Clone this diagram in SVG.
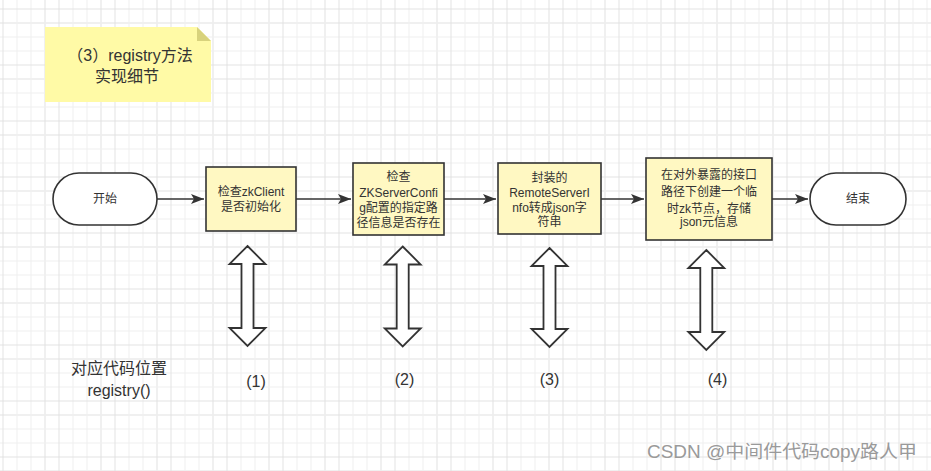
<svg xmlns="http://www.w3.org/2000/svg" width="931" height="471" viewBox="0 0 931 471">
<defs>
<pattern id="grid" patternUnits="userSpaceOnUse" x="2.5" y="8.5" width="56" height="56">
<path d="M14.5,0V56M28.5,0V56M42.5,0V56M0,14.5H56M0,28.5H56M0,42.5H56" stroke="#efefef" stroke-width="1" fill="none"/>
<path d="M0.5,0V56M0,0.5H56" stroke="#e2e2e2" stroke-width="1" fill="none"/>
</pattern>
<pattern id="gridmaj" patternUnits="userSpaceOnUse" x="44.5" y="22.5" width="56" height="56">
<path d="M0.5,0V56M0,0.5H56" stroke="#e2e2e2" stroke-width="1" fill="none"/>
</pattern>
<marker id="ah" viewBox="0 0 13 10" refX="13" refY="5" markerWidth="13" markerHeight="10" markerUnits="userSpaceOnUse" orient="auto">
<path d="M0,0 L13,5 L0,10 L3,5 Z" fill="#333"/>
</marker>
</defs>
<style>
text{font-family:"Liberation Sans","Noto Sans CJK SC",sans-serif;fill:#333;text-anchor:middle}
.box{fill:#fff8c2;stroke:#333;stroke-width:1.6}
.term{fill:#fff;stroke:#333;stroke-width:1.6}
.t12{font-size:12px}
.t16{font-size:16px}
.conn{stroke:#333;stroke-width:1.6;fill:none}
.dbl{fill:#fff;stroke:#333;stroke-width:1.8}
</style>
<rect width="931" height="471" fill="#fff"/>
<rect width="931" height="471" fill="url(#gridmaj)"/>
<rect width="931" height="471" fill="url(#grid)"/>

<g id="note">
<path d="M45,27 H197 L211,41 V102 H45 Z" fill="#fffaa6"/>
<path d="M197,27 L211,41 H197 Z" fill="#d8d27c"/>
<text class="t16" x="130" y="61">（3）registry方法</text>
<text class="t16" x="127" y="82">实现细节</text>
</g>

<g id="start">
<rect class="term" x="53" y="173" width="104" height="52" rx="26"/>
<text class="t12" x="105" y="203">开始</text>
</g>
<g id="step1">
<rect class="box" x="206" y="167" width="90" height="64"/>
<text class="t12" x="251" y="196">检查zkClient</text>
<text class="t12" x="251" y="211">是否初始化</text>
</g>
<g id="step2">
<rect class="box" x="353" y="163" width="91" height="72"/>
<text class="t12" x="398.5" y="181">检查</text>
<text class="t12" x="398.5" y="196.5">ZKServerConfi</text>
<text class="t12" x="398.5" y="212">g配置的指定路</text>
<text class="t12" x="398.5" y="227">径信息是否存在</text>
</g>
<g id="step3">
<rect class="box" x="498" y="163" width="103" height="71"/>
<text class="t12" x="549.5" y="182">封装的</text>
<text class="t12" x="549.5" y="197">RemoteServerI</text>
<text class="t12" x="549.5" y="212">nfo转成json字</text>
<text class="t12" x="549.5" y="226">符串</text>
</g>
<g id="step4">
<rect class="box" x="646" y="158" width="126" height="82"/>
<text class="t12" x="709" y="179">在对外暴露的接口</text>
<text class="t12" x="709" y="196">路径下创建一个临</text>
<text class="t12" x="709" y="213">时zk节点，存储</text>
<text class="t12" x="709" y="226">json元信息</text>
</g>
<g id="end">
<rect class="term" x="810" y="173" width="96" height="52" rx="26"/>
<text class="t12" x="858" y="203">结束</text>
</g>

<g id="connectors">
<path class="conn" d="M157,199 H204" marker-end="url(#ah)"/>
<path class="conn" d="M296,199 H351" marker-end="url(#ah)"/>
<path class="conn" d="M444,199 H496" marker-end="url(#ah)"/>
<path class="conn" d="M601,199 H644" marker-end="url(#ah)"/>
<path class="conn" d="M772,199 H808" marker-end="url(#ah)"/>
</g>

<g id="links">
<path class="dbl" d="M247.5,246 L265.5,264 L253.5,264 L253.5,328 L265.5,328 L247.5,346 L229.5,328 L241.5,328 L241.5,264 L229.5,264 Z"/>
<path class="dbl" d="M402.7,246.5 L420.7,264.5 L408.7,264.5 L408.7,328.5 L420.7,328.5 L402.7,346.5 L384.7,328.5 L396.7,328.5 L396.7,264.5 L384.7,264.5 Z"/>
<path class="dbl" d="M549.5,248 L567.5,266 L555.5,266 L555.5,329 L567.5,329 L549.5,347 L531.5,329 L543.5,329 L543.5,266 L531.5,266 Z"/>
<path class="dbl" d="M706.3,250 L724.3,268 L712.3,268 L712.3,332 L724.3,332 L706.3,350 L688.3,332 L700.3,332 L700.3,268 L688.3,268 Z"/>
</g>

<g id="labels">
<text class="t16" x="119" y="374">对应代码位置</text>
<text class="t16" x="119" y="396">registry()</text>
<text class="t16" x="256" y="387">(1)</text>
<text class="t16" x="404.5" y="385">(2)</text>
<text class="t16" x="549.5" y="385">(3)</text>
<text class="t16" x="717.5" y="385">(4)</text>
</g>

<text x="782" y="458" style="font-size:18px;fill:#9a9a9a" textLength="270" lengthAdjust="spacingAndGlyphs">CSDN @中间件代码copy路人甲</text>
</svg>
